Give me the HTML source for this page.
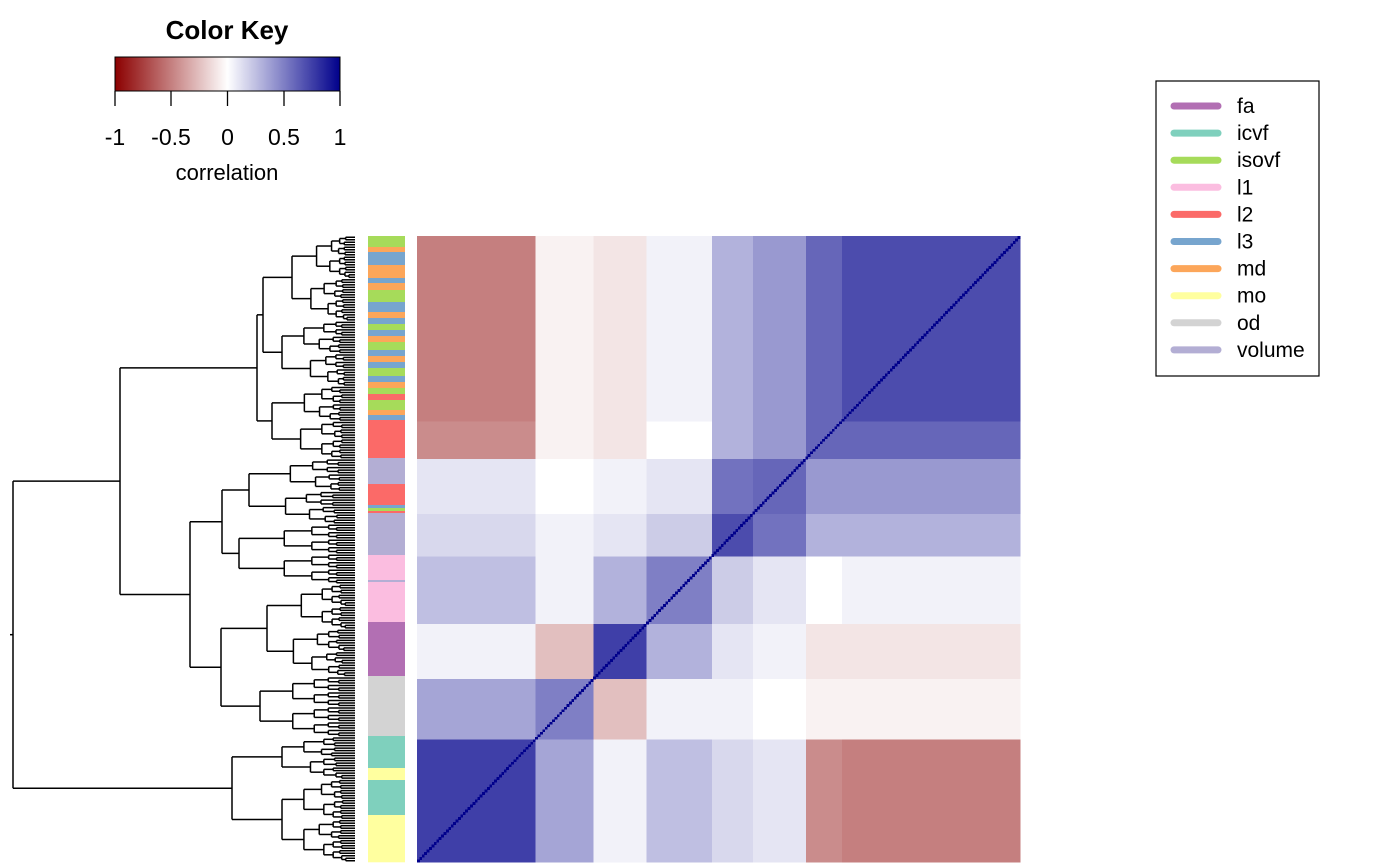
<!DOCTYPE html>
<html><head><meta charset="utf-8"><style>
body{margin:0;background:#fff;font-family:"Liberation Sans",Arial,sans-serif}
svg{display:block}
</style></head><body>
<svg id="s" width="1400" height="865" viewBox="0 0 1400 865">
<defs><linearGradient id="kg" x1="0" x2="1"><stop offset="0" stop-color="#8B0000"/><stop offset="0.5" stop-color="#ffffff"/><stop offset="1" stop-color="#00008B"/></linearGradient></defs>
<g>
<text x="227" y="39" text-anchor="middle" font-size="26" font-weight="bold">Color Key</text>
<rect x="115" y="57" width="225" height="34" fill="url(#kg)" stroke="#000" stroke-width="1"/>
<g stroke="#000" stroke-width="1.3"><line x1="115" y1="91" x2="115" y2="106"/><line x1="171" y1="91" x2="171" y2="106"/><line x1="227.5" y1="91" x2="227.5" y2="106"/><line x1="284" y1="91" x2="284" y2="106"/><line x1="340" y1="91" x2="340" y2="106"/></g>
<g font-size="23" text-anchor="middle"><text x="115" y="145">-1</text><text x="171" y="145">-0.5</text><text x="227.5" y="145">0</text><text x="284" y="145">0.5</text><text x="340" y="145">1</text></g>
<text x="227" y="180" text-anchor="middle" font-size="22">correlation</text>
</g>
<g id="dend" stroke="#000" stroke-width="1.5" fill="none"></g>
<g id="side"></g>
<g id="heat" shape-rendering="crispEdges"></g>
<g id="legend">
<rect x="1156" y="81" width="163" height="295" fill="#fff" stroke="#000" stroke-width="1.2"/>
</g>
</svg>
<script>
const groups=["fa","icvf","isovf","l1","l2","l3","md","mo","od","volume"];
const groupColors=["#B26FB3","#7FD0BD","#A6DB5A","#FBBDE0","#FB6A68","#77A5CE","#FCA65A","#FFFF9F","#D3D3D3","#B3AED4"];
const sideSegs=[["isovf",11],["md",5],["l3",13],["md",13],["l3",5],["md",7],["isovf",12],["l3",10],["md",6],["l3",6],["isovf",6],["l3",6],["md",6],["isovf",8],["l3",6],["md",6],["l3",6],["isovf",8],["l3",6],["md",6],["isovf",6],["l2",6],["isovf",10],["md",5],["l3",5],["l2",38],["volume",26],["l2",21],["l3",3],["isovf",3],["l2",2],["volume",42],["l1",25],["volume",2],["l1",40],["fa",54],["od",60],["icvf",32],["mo",12],["icvf",35],["mo",47]];
const clusters=["A","B","C","D","E","F","G","H"];
const clusterSizes=[74,15,22,17,27,22,24,49];
const blockCorr=[
[0.70,0.60,0.40,0.30,0.05,-0.10,-0.05,-0.50],
[0.60,0.60,0.40,0.30,0.00,-0.10,-0.05,-0.45],
[0.40,0.40,0.60,0.55,0.10,0.05,0.00,0.10],
[0.30,0.30,0.55,0.70,0.20,0.10,0.05,0.15],
[0.05,0.00,0.10,0.20,0.50,0.30,0.05,0.25],
[-0.10,-0.10,0.05,0.10,0.30,0.75,-0.25,0.05],
[-0.05,-0.05,0.00,0.05,0.05,-0.25,0.50,0.35],
[-0.50,-0.45,0.10,0.15,0.25,0.05,0.35,0.75]];
const NS="http://www.w3.org/2000/svg";
const HX0=417,HX1=1020,HY0=236,HY1=862;
const N=clusterSizes.reduce((a,b)=>a+b,0);
const rowH=(HY1-HY0)/N, colW=(HX1-HX0)/N;
function col(v){v=Math.max(-1,Math.min(1,v));let r,g,b;
 if(v<0){const t=-v;r=255+(139-255)*t;g=255*(1-t);b=255*(1-t);}else{const t=v;r=255*(1-t);g=255*(1-t);b=255+(139-255)*t;}
 return `rgb(${r|0},${g|0},${b|0})`;}
function mk(tag,attrs,parent){const e=document.createElementNS(NS,tag);for(const k in attrs)e.setAttribute(k,attrs[k]);parent.appendChild(e);return e;}
const heat=document.getElementById('heat');
const starts=[];let acc=0;clusterSizes.forEach(s=>{starts.push(acc);acc+=s;});
function yOf(i){return HY0+i*rowH;}
function xOf(j){return HX1-j*colW;}
for(let r=0;r<clusters.length;r++)for(let c=0;c<clusters.length;c++){
 const y=yOf(starts[r]),h=clusterSizes[r]*rowH;
 const x=xOf(starts[c]+clusterSizes[c]),w=clusterSizes[c]*colW;
 const e=mk('rect',{x:x,y:y,width:w+0.5,height:h+0.5,fill:col(blockCorr[r][c])},heat);
 
 
}
for(let i=0;i<N;i++){
 const e=mk('rect',{x:xOf(i+1),y:yOf(i),width:colW+0.4,height:rowH+0.4,fill:col(1)},heat);
 
 
}
const side=document.getElementById('side');
const tot=sideSegs.reduce((a,s)=>a+s[1],0);let sy=HY0;
sideSegs.forEach(s=>{const h=s[1]/tot*(HY1-HY0);
 const e=mk('rect',{x:368,y:sy,width:37,height:h+0.3,fill:groupColors[groups.indexOf(s[0])]},side);
 
 
 sy+=h;});
const dend=document.getElementById('dend');
function line(x1,y1,x2,y2){mk('line',{x1:x1,y1:y1,x2:x2,y2:y2},dend);}
const LEAFX=355;
function px2i(p){return Math.round((p-HY0)/rowH);}
function build(n,px){
 if(n.r){const a=px2i(n.r[0]),b=px2i(n.r[1]);return buildRange(a,b,n.x,px);}
 const y1=build(n.c[0],n.x),y2=build(n.c[1],n.x);
 line(n.x,y1,n.x,y2);const y=(y1+y2)/2;line(px,y,n.x,y);return y;}
function buildRange(a,b,x,px){
 if(b-a<=1){const y=yOf(a)+rowH/2;line(px,y,LEAFX,y);return y;}
 const m=Math.floor((a+b)/2);
 const step=Math.max(2,(LEAFX-x)*0.3);
 const y1=buildRange(a,m,Math.min(LEAFX-1,x+step*(1+((a+m)%3)*0.15)),x);
 const y2=buildRange(m,b,Math.min(LEAFX-1,x+step*(1+((m+b)%3)*0.15)),x);
 line(x,y1,x,y2);const y=(y1+y2)/2;line(px,y,x,y);return y;}
const tree={x:13,c:[
 {x:120,c:[
  {x:257,c:[{x:263,c:[{x:292,r:[236,320]},{x:282,r:[320,385]}]},{x:272,r:[385,458]}]},
  {x:190,c:[{x:222,c:[{x:249,r:[458,525]},{x:239,r:[525,585]}]},{x:221,c:[{x:267,r:[585,676]},{x:260,r:[676,736]}]}]}
 ]},
 {x:232,c:[{x:282,r:[736,780]},{x:282,r:[780,862]}]}
]};
(function(){const n=tree;const y1=build(n.c[0],n.x),y2=build(n.c[1],n.x);line(n.x,y1,n.x,y2);line(10,(y1+y2)/2,n.x,(y1+y2)/2);})();
const lg=document.getElementById('legend');
groups.forEach((g,i)=>{const y=106+i*27.1;
 const l=mk('line',{x1:1174,y1:y,x2:1218,y2:y,stroke:groupColors[i],'stroke-width':7,'stroke-linecap':'round'},lg);
 
 
 const t=mk('text',{x:1237,y:y+7,'font-size':21},lg);t.textContent=g;
 
 
});
</script>
</body></html>
